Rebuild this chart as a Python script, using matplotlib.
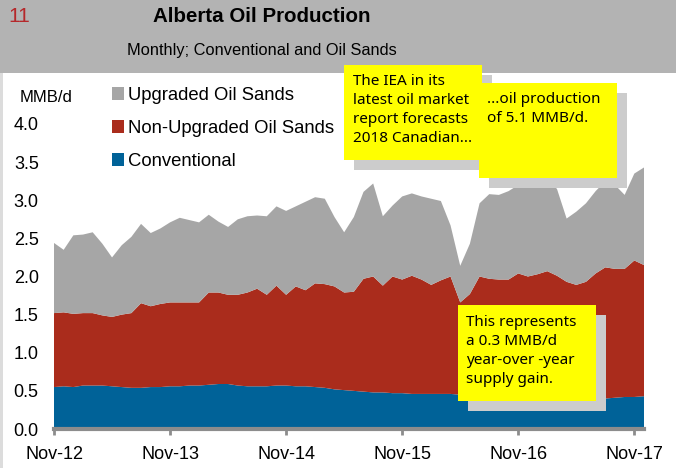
import numpy as np
import matplotlib
matplotlib.use("Agg")
import matplotlib.pyplot as plt
from matplotlib.patches import Rectangle

plt.rcParams['font.family'] = ['Liberation Sans', 'DejaVu Sans']

W, H = 676, 468

# months since Nov-12 (Nov-12 .. Dec-17)
tick_labels = ["Nov-12", "Nov-13", "Nov-14", "Nov-15", "Nov-16", "Nov-17"]

# MMB/d
conventional = [0.55, 0.56, 0.55, 0.57, 0.57, 0.57, 0.56, 0.55, 0.54, 0.54,
                0.55, 0.55, 0.56, 0.56, 0.57, 0.57, 0.58, 0.59, 0.59, 0.57,
                0.56, 0.56, 0.56, 0.57, 0.57, 0.56, 0.56, 0.55, 0.54, 0.52,
                0.51, 0.50, 0.49, 0.48, 0.48, 0.47, 0.47, 0.46, 0.46, 0.46,
                0.46, 0.46, 0.45, 0.44, 0.43, 0.43, 0.42, 0.42, 0.42, 0.41,
                0.41, 0.41, 0.41, 0.40, 0.40, 0.40, 0.40, 0.40, 0.41, 0.42,
                0.42, 0.43]
# conventional + non-upgraded oil sands
conv_plus_nonupgraded = [1.52, 1.53, 1.51, 1.52, 1.52, 1.49, 1.47, 1.50, 1.52, 1.65,
                         1.61, 1.64, 1.66, 1.66, 1.66, 1.66, 1.79, 1.79, 1.76, 1.76,
                         1.79, 1.84, 1.76, 1.88, 1.76, 1.87, 1.82, 1.91, 1.90, 1.87,
                         1.79, 1.80, 1.97, 2.00, 1.88, 2.00, 1.96, 2.01, 1.96, 1.89,
                         1.95, 2.00, 1.66, 1.77, 2.00, 1.97, 1.96, 1.96, 2.04, 2.00,
                         2.03, 2.07, 2.01, 1.93, 1.89, 1.93, 2.04, 2.12, 2.10, 2.10,
                         2.21, 2.15]
# total production (all three)
total = [2.44, 2.35, 2.54, 2.55, 2.58, 2.43, 2.25, 2.41, 2.52, 2.69,
         2.57, 2.63, 2.71, 2.77, 2.74, 2.71, 2.81, 2.72, 2.65, 2.75,
         2.79, 2.80, 2.79, 2.92, 2.86, 2.92, 2.98, 3.04, 3.02, 2.78,
         2.58, 2.78, 3.11, 3.22, 2.79, 2.93, 3.05, 3.09, 3.05, 3.02,
         2.99, 2.67, 2.14, 2.43, 2.96, 3.08, 3.07, 3.12, 3.20, 3.25,
         3.30, 3.25, 3.15, 2.76, 2.85, 2.96, 3.12, 3.25, 3.20, 3.07,
         3.35, 3.43]

conv = np.array(conventional)
non_upgraded = np.array(conv_plus_nonupgraded) - conv
upgraded = np.array(total) - np.array(conv_plus_nonupgraded)
months = np.arange(len(conv))

BLUE = "#006298"
RED = "#aa2c1c"
GRAY = "#a6a6a6"


def fx(px):
    return px / W


def fy(py):
    return 1 - py / H


fig = plt.figure(figsize=(W / 100, H / 100), dpi=100)
fig.patch.set_facecolor("white")

# header band and left frame strip
fig.patches.append(Rectangle((0, fy(73)), 1, 73 / H, transform=fig.transFigure,
                             facecolor="#b3b3b3", edgecolor="none", zorder=0))
fig.patches.append(Rectangle((0, 0), fx(3), fy(73), transform=fig.transFigure,
                             facecolor="#dcdcdc", edgecolor="none", zorder=0))

fig.text(fx(8), fy(17), "11", color="#b5282b", fontsize=15, va="center", ha="left")
fig.text(fx(262), fy(17), "Alberta Oil Production", fontsize=14.8, fontweight="bold",
         ha="center", va="center")
fig.text(fx(262), fy(50), "Monthly; Conventional and Oil Sands", fontsize=11.8,
         ha="center", va="center")

ax = fig.add_axes([fx(54), fy(429), fx(644) - fx(54), fy(124) - fy(429)])
polys = ax.stackplot(months, conv, non_upgraded, upgraded,
                     colors=[BLUE, RED, GRAY], linewidth=0,
                     labels=["Conventional", "Non-Upgraded Oil Sands", "Upgraded Oil Sands"])
ax.set_xlim(0, 61)
ax.set_ylim(0, 4.0)
ax.set_yticks(np.arange(0, 4.01, 0.5))
ax.set_yticklabels([f"{v:.1f}" for v in np.arange(0, 4.01, 0.5)])
ax.set_xticks(np.arange(0, 61, 12))
ax.set_xticklabels(tick_labels)
for s in ["top", "right", "left"]:
    ax.spines[s].set_visible(False)
ax.spines["bottom"].set_color("#8c8c8c")
ax.spines["bottom"].set_linewidth(3)
ax.tick_params(axis="y", length=0, pad=11, labelsize=13)
ax.tick_params(axis="x", direction="out", length=4, width=2, color="#8c8c8c",
               pad=8, labelsize=13)

fig.text(fx(20), fy(97), "MMB/d", fontsize=12, va="center", ha="left")

handles, labels = ax.get_legend_handles_labels()
fig.legend(handles[::-1], labels[::-1], loc="upper left",
           bbox_to_anchor=(fx(112), fy(87)), frameon=False, fontsize=13.3,
           handlelength=0.65, handleheight=0.65, handletextpad=0.2,
           labelspacing=0.87, borderpad=0, borderaxespad=0)


def note(x0, y0, x1, y1, text, tx, ty):
    fig.patches.append(Rectangle((fx(x0 + 10), fy(y1 + 10)), fx(x1 - x0), (y1 - y0) / H,
                                 transform=fig.transFigure, facecolor="#cccccc",
                                 edgecolor="none", zorder=5))
    fig.patches.append(Rectangle((fx(x0), fy(y1)), fx(x1 - x0), (y1 - y0) / H,
                                 transform=fig.transFigure, facecolor="#ffff00",
                                 edgecolor="none", zorder=5))
    fig.text(fx(tx), fy(ty), text, fontsize=11, family="Noto Sans", va="top",
             ha="left", linespacing=1.36, zorder=6)


note(344, 65, 482, 160, "The IEA in its\nlatest oil market\nreport forecasts\n2018 Canadian...", 353, 74)
note(479, 83, 617, 178, "...oil production\nof 5.1 MMB/d.", 487, 92)
note(458, 305, 596, 401, "This represents\na 0.3 MMB/d\nyear-over -year\nsupply gain.", 466, 315)

fig.savefig("out.png", dpi=100)
